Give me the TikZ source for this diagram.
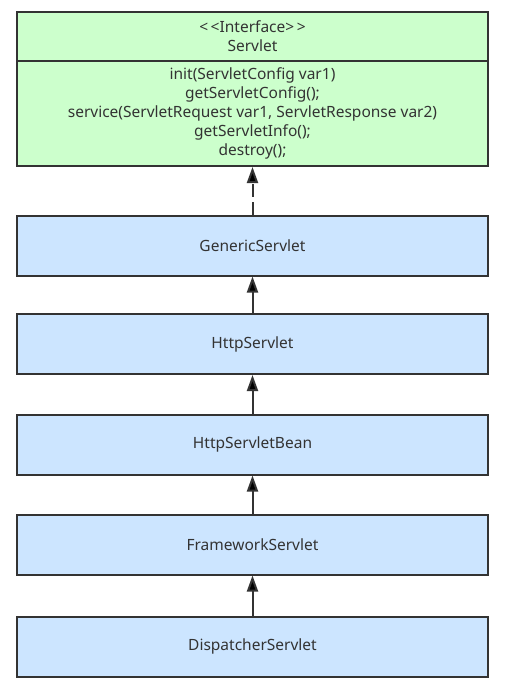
\documentclass[tikz,border=0pt]{standalone}
\usepackage{fontspec}
\setmainfont{Noto Sans}
\usetikzlibrary{arrows.meta}
\definecolor{ifacegreen}{HTML}{CCFFCC}
\definecolor{classblue}{HTML}{CCE5FF}
\definecolor{umlgray}{HTML}{333333}
\tikzset{classbox/.style = {shape = rectangle,
                            draw = umlgray,
                            fill = classblue,
                            line width = 2pt,
                            minimum width = 471pt,
                            minimum height = 60pt,
                            text = umlgray,
                            font = \fontsize{15.5}{19}\selectfont},
         ifacebox/.style = {classbox,
                            fill = ifacegreen,
                            align = center,
                            inner sep = 0pt},
         extends/.style = {draw = umlgray, line width = 2pt,
                           -{Triangle[width=11pt,length=16pt]}},
         implements/.style = {extends, dash pattern = on 13pt off 5pt}}
\begin{document}
\begin{tikzpicture}[x=1pt,y=-1pt]
	\useasboundingbox (0,0) rectangle (511,688);
	\node[ifacebox, minimum height = 49pt] (servlethead) at (252.5,36.5) {{<}\,{<}Interface{>}\,{>}\\Servlet};
	\node[ifacebox, minimum height = 105pt] (servletbody) at (252.5,113.5)
		{init(ServletConfig var1)\\getServletConfig();\\service(ServletRequest var1, ServletResponse var2)\\getServletInfo();\\destroy();};
	\node[classbox] (generic) at (252.5,245.5) {GenericServlet};
	\node[classbox] (http) at (252.5,344) {HttpServlet};
	\node[classbox] (httpbean) at (252.5,444.5) {HttpServletBean};
	\node[classbox] (framework) at (252.5,544.5) {FrameworkServlet};
	\node[classbox] (dispatcher) at (252.5,646.5) {DispatcherServlet};
	\path[implements] (generic) edge (servletbody);
	\path[extends] (http) edge (generic);
	\path[extends] (httpbean) edge (http);
	\path[extends] (framework) edge (httpbean);
	\path[extends] (dispatcher) edge (framework);
\end{tikzpicture}
\end{document}
